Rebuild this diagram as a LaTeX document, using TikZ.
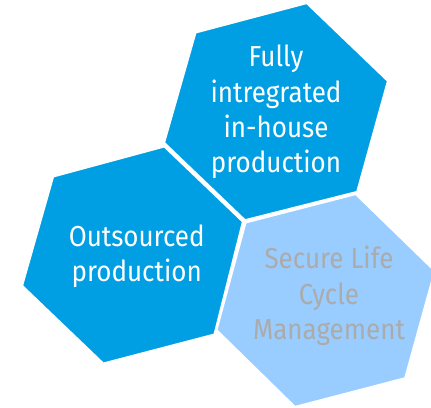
\documentclass[tikz,border=0pt]{standalone}
\usepackage{fontspec}
\setmainfont{Fira Sans}[FakeStretch=0.9]
\definecolor{hexdark}{HTML}{009FE3}
\definecolor{hexlight}{HTML}{99CCFF}
\definecolor{greytext}{HTML}{ABABAB}
\tikzset{
  hexdarkstyle/.style={fill=hexdark, draw=white, line width=1.6bp, line join=miter},
  hexlightstyle/.style={fill=hexlight, draw=white, line width=1.6bp, line join=miter},
  hextext/.style={align=center, inner sep=0pt, font=\fontsize{29}{35.5}\selectfont},
}
\begin{document}
\begin{tikzpicture}[x=1bp,y=-1bp]
\useasboundingbox (0,0) rectangle (431,408);
\clip (0,0) rectangle (431,408);
% light hexagon (right)
\draw[hexlightstyle] (245.7,222.7) -- (355.7,194.3) -- (434.6,271) -- (405,378) -- (295,406.7) -- (216.7,330) -- cycle;
% left hexagon
\draw[hexdarkstyle] (53.3,176.7) -- (164.3,146.7) -- (242.7,221.7) -- (214.3,334.3) -- (103.3,363.3) -- (22.3,285.7) -- cycle;
% top hexagon
\draw[hexdarkstyle] (195.7,32.7) -- (306.7,3.3) -- (387.7,81) -- (357,191.7) -- (245,220) -- (164.3,142.7) -- cycle;
\node[hextext, text=white] (top) at (276,112) {Fully\\intregrated\\in-house\\production};
\node[hextext, text=white] (left) at (136.7,256) {Outsourced\\production};
\node[hextext, text=greytext] (right) at (329,296) {Secure Life\\Cycle\\Management};
\end{tikzpicture}
\end{document}
